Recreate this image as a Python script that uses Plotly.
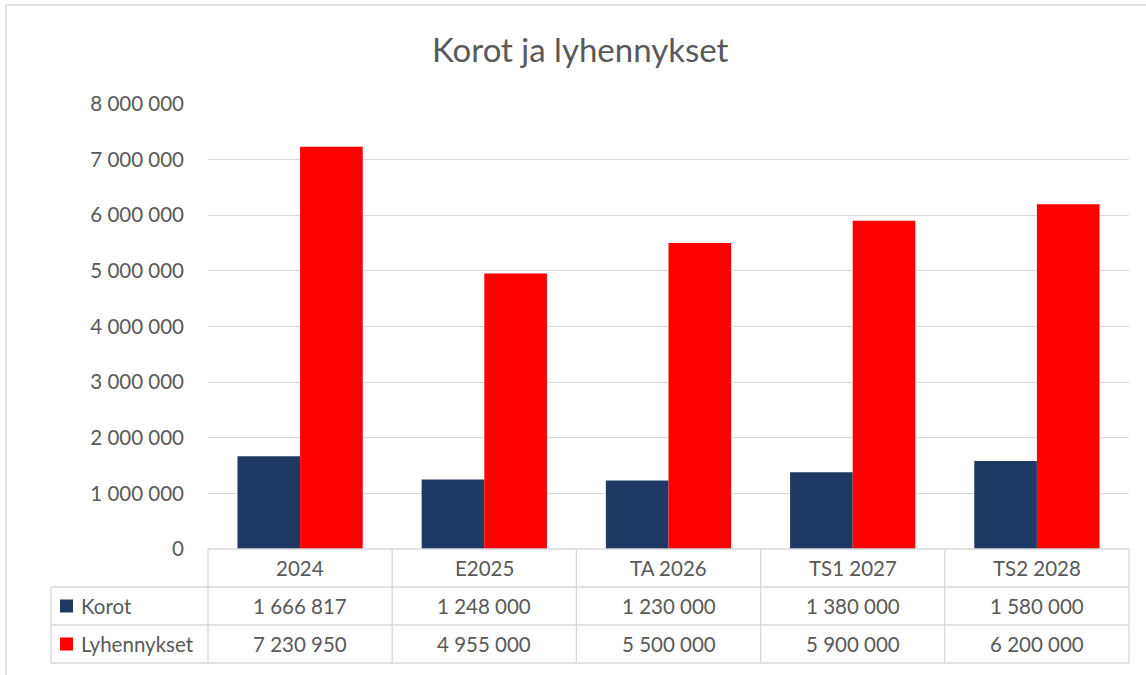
import plotly.graph_objects as go

categories = ["2024", "E2025", "TA 2026", "TS1 2027", "TS2 2028"]
korot = [1666817, 1248000, 1230000, 1380000, 1580000]
lyhennykset = [7230950, 4955000, 5500000, 5900000, 6200000]
series_names = ["Korot", "Lyhennykset"]
title_text = "Korot ja lyhennykset"
y_ticks = [0, 1000000, 2000000, 3000000, 4000000, 5000000, 6000000, 7000000, 8000000]

W, H = 1146, 675
COL_NAVY = "#203864"
COL_RED = "#FF0000"
GRID = "#d9d9d9"
TXT = "#595959"
FONT = "Lato"
FS = 20.5

PL, PR = 208, 1129
PB, PT = 549, 104

def px(x):
    return (x - PL) / (PR - PL)

def py(y):
    return (PB - y) / (PB - PT)

def fmt(v):
    return f"{v:,}".replace(",", " ")

fig = go.Figure()
fig.add_trace(go.Bar(x=categories, y=korot, name=series_names[0],
                     marker=dict(color=COL_NAVY, line=dict(width=0))))
fig.add_trace(go.Bar(x=categories, y=lyhennykset, name=series_names[1],
                     marker=dict(color=COL_RED, line=dict(width=0))))

shapes = []
ann = []

def line(x0, y0, x1, y1, w=1.3):
    shapes.append(dict(type="line", xref="paper", yref="paper",
                       x0=px(x0), y0=py(y0), x1=px(x1), y1=py(y1),
                       line=dict(color=GRID, width=w), layer="above"))

# outer chart border (top & left)
line(6, 5, W + 5, 5, 1.5)
line(6, 5, 6, H + 5, 1.5)

# data table
n = len(categories)
cw = (PR - PL) / n
rows = [PB, 587, 625, 663]
TL = 51
line(PL, rows[0], PR, rows[0])
for r in rows[1:]:
    line(TL, r, PR, r)
for k in range(n + 1):
    line(PL + k * cw, rows[0], PL + k * cw, rows[-1])
line(TL, rows[1], TL, rows[-1])

for i, c in enumerate(categories):
    cx = PL + (i + 0.5) * cw
    ann.append(dict(x=px(cx), y=py((rows[0] + rows[1]) / 2), text=c))
    ann.append(dict(x=px(cx), y=py((rows[1] + rows[2]) / 2), text=fmt(korot[i])))
    ann.append(dict(x=px(cx), y=py((rows[2] + rows[3]) / 2), text=fmt(lyhennykset[i])))

for j, (nm, col) in enumerate(zip(series_names, [COL_NAVY, COL_RED])):
    yc = (rows[1 + j] + rows[2 + j]) / 2
    shapes.append(dict(type="rect", xref="paper", yref="paper",
                       x0=px(60), x1=px(73), y0=py(yc - 6.5), y1=py(yc + 6.5),
                       fillcolor=col, line=dict(width=0)))
    ann.append(dict(x=px(79), y=py(yc), text=nm, xanchor="left"))

# title
ann.append(dict(x=px(580.5), y=py(49), text=title_text, size=33))

annotations = []
for a in ann:
    size = a.pop("size", FS)
    d = dict(xref="paper", yref="paper", showarrow=False,
             font=dict(family=FONT, size=size, color=TXT), yanchor="middle")
    d.setdefault("xanchor", "center")
    d.update(a)
    annotations.append(d)

fig.update_layout(
    width=W, height=H,
    margin=dict(l=PL, r=W - PR, t=PT, b=H - PB, pad=0, autoexpand=False),
    paper_bgcolor="white", plot_bgcolor="white",
    separators=", ",
    barmode="group", bargap=0.32, bargroupgap=0,
    showlegend=False,
    xaxis=dict(showticklabels=False, showgrid=False, automargin=False,
               zeroline=False, showline=False, fixedrange=True),
    yaxis=dict(range=[0, 8000000], tickvals=y_ticks, automargin=False,
               tickformat=",d", showgrid=True, gridcolor=GRID, gridwidth=1.3,
               zeroline=False, showline=False, ticks="",
               ticklabelstandoff=23,
               tickfont=dict(family=FONT, size=FS, color=TXT)),
    shapes=shapes,
    annotations=annotations,
    font=dict(family=FONT, color=TXT),
)

fig.write_html("out.html", config={"displayModeBar": False},
               post_script="document.body.style.margin='0';document.body.style.overflow='hidden';")
